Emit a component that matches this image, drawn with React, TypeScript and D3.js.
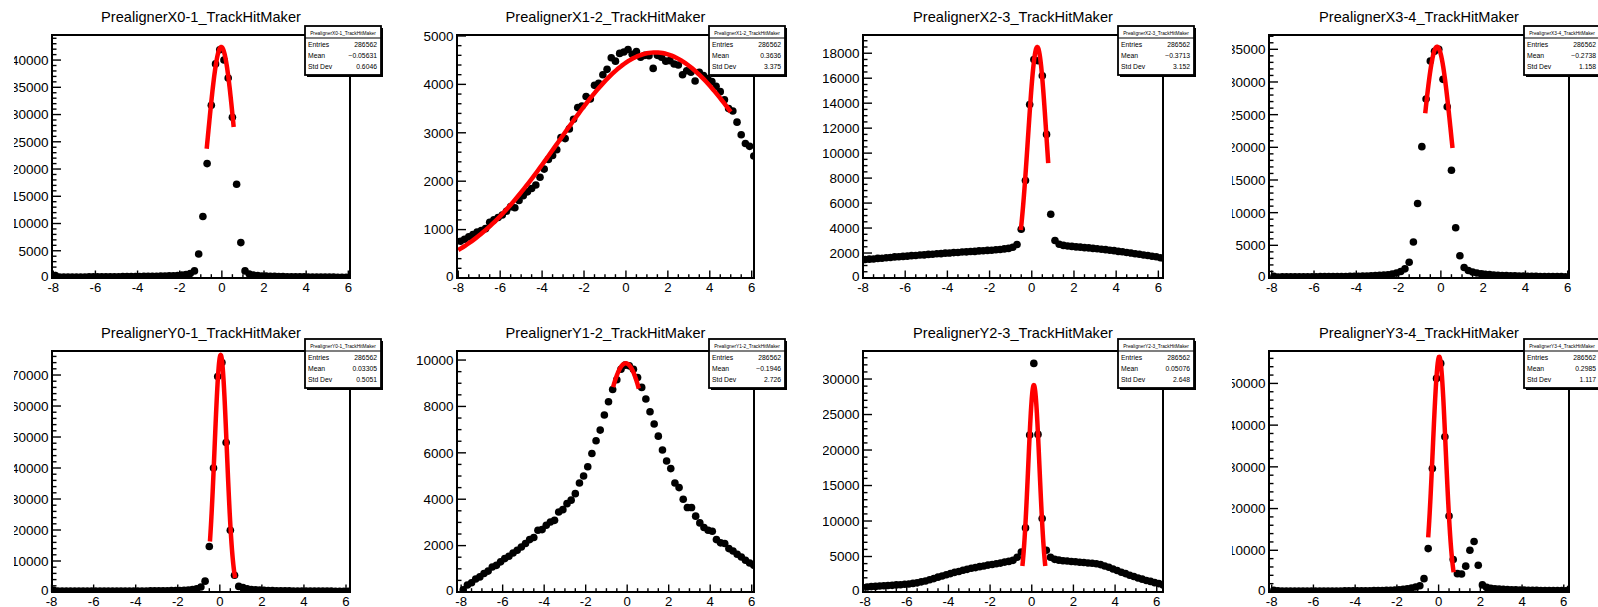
import { useEffect, useRef } from "react"
import * as d3 from "d3"

const FONT = "'Liberation Sans', Arial, Helvetica, sans-serif"

// 72 bins of width 0.2 starting at -8.0
const binLow = -8.0
const binWidth = 0.2

const titles = [
  "PrealignerX0-1_TrackHitMaker",
  "PrealignerX1-2_TrackHitMaker",
  "PrealignerX2-3_TrackHitMaker",
  "PrealignerX3-4_TrackHitMaker",
  "PrealignerY0-1_TrackHitMaker",
  "PrealignerY1-2_TrackHitMaker",
  "PrealignerY2-3_TrackHitMaker",
  "PrealignerY3-4_TrackHitMaker",
]

const countsX01 = [
  450, 180, 170, 175, 180, 185, 190, 195, 200, 205,
  210, 215, 220, 225, 230, 240, 245, 250, 260, 270,
  280, 290, 300, 315, 330, 350, 370, 390, 420, 460,
  520, 620, 820, 1300, 4400, 11300, 21000, 31700, 39300, 41900,
  40000, 36700, 29500, 17200, 6500, 1300, 720, 520, 430, 380,
  340, 310, 290, 270, 250, 240, 230, 220, 210, 200,
  190, 185, 180, 170, 165, 160, 155, 150, 145, 140,
  135, 130,
]
const countsX12 = [
  760, 800, 850, 900, 950, 980, 1020, 1150, 1200, 1250,
  1300, 1380, 1470, 1450, 1600, 1700, 1780, 1850, 1920, 2080,
  2250, 2450, 2530, 2650, 2900, 2880, 3080, 3280, 3520, 3550,
  3750, 3700, 3980, 4020, 4200, 4310, 4550, 4480, 4640, 4670,
  4720, 4620, 4680, 4560, 4600, 4590, 4330, 4600, 4560, 4480,
  4490, 4420, 4400, 4200, 4280, 4250, 4070, 4250, 4180, 4120,
  4060, 3960, 3850, 3680, 3500, 3450, 3220, 2960, 2780, 2720,
  2520, 2450,
]
const countsX23 = [
  1480, 1510, 1520, 1570, 1580, 1620, 1640, 1690, 1700, 1730,
  1750, 1790, 1800, 1840, 1850, 1890, 1900, 1940, 1950, 1990,
  2000, 2030, 2040, 2080, 2090, 2120, 2130, 2170, 2180, 2210,
  2220, 2260, 2280, 2330, 2370, 2460, 2680, 3900, 7800, 13900,
  17500, 17400, 16200, 11500, 5100, 3000, 2700, 2610, 2560, 2530,
  2490, 2470, 2430, 2410, 2370, 2340, 2300, 2270, 2220, 2190,
  2130, 2100, 2040, 2000, 1940, 1900, 1840, 1800, 1740, 1700,
  1620, 1550,
]
const countsX34 = [
  250, 160, 165, 170, 170, 175, 180, 185, 190, 195,
  200, 205, 210, 215, 220, 225, 235, 240, 250, 260,
  270, 290, 310, 335, 365, 400, 440, 500, 600, 750,
  1000, 1400, 2400, 5500, 11400, 20100, 27400, 33200, 34700, 35000,
  30400, 26200, 16500, 7700, 3400, 1600, 1150, 900, 760, 650,
  570, 510, 460, 420, 390, 360, 340, 320, 300, 285,
  270, 260, 250, 240, 230, 220, 215, 210, 205, 200,
  195, 190,
]
const countsY01 = [
  520, 300, 290, 290, 285, 285, 280, 280, 280, 280,
  280, 285, 285, 290, 290, 295, 300, 300, 310, 315,
  320, 330, 340, 350, 360, 375, 390, 410, 430, 460,
  500, 560, 640, 760, 1000, 1600, 3500, 14700, 40000, 69500,
  74000, 48200, 19900, 5400, 1800, 1400, 1000, 800, 680, 600,
  540, 490, 450, 420, 400, 380, 360, 345, 330, 320,
  310, 300, 290, 285, 280, 275, 270, 265, 260, 255,
  250, 300,
]
const countsY12 = [
  100, 300, 400, 560, 650, 800, 900, 1080, 1150, 1300,
  1440, 1540, 1680, 1800, 1940, 2090, 2260, 2350, 2660, 2690,
  2880, 3020, 3090, 3450, 3550, 3810, 3960, 4240, 4700, 5000,
  5400, 5970, 6520, 6980, 7630, 8200, 8730, 9150, 9600, 9780,
  9750, 9600, 9250, 8820, 8320, 7770, 7240, 6720, 6120, 5650,
  5320, 4700, 4500, 4000, 3640, 3640, 3270, 2980, 2780, 2660,
  2620, 2260, 2120, 2090, 1870, 1770, 1630, 1510, 1370, 1250,
  1150, 1100,
]
const countsY23 = [
  700, 760, 790, 850, 870, 920, 940, 1000, 1020, 1090,
  1130, 1210, 1290, 1430, 1550, 1730, 1890, 2090, 2250, 2440,
  2590, 2770, 2890, 3060, 3190, 3340, 3440, 3570, 3670, 3790,
  3870, 3990, 4070, 4210, 4310, 4460, 4900, 5640, 9030, 22100,
  32200, 22200, 10340, 5880, 4900, 4600, 4490, 4410, 4370, 4290,
  4260, 4190, 4160, 4090, 4060, 3970, 3860, 3670, 3490, 3240,
  3030, 2790, 2590, 2360, 2180, 1970, 1810, 1630, 1490, 1320,
  1180, 1000,
]
const countsY34 = [
  400, 260, 255, 250, 250, 245, 245, 240, 240, 240,
  240, 240, 245, 245, 250, 250, 255, 260, 265, 270,
  280, 290, 300, 310, 320, 340, 360, 380, 410, 450,
  520, 620, 760, 950, 1200, 1500, 3200, 10400, 29600, 51200,
  54800, 37200, 18200, 7800, 4400, 4300, 6200, 10000, 12100, 6400,
  1700, 1100, 880, 760, 680, 620, 570, 530, 500, 470,
  450, 430, 410, 390, 370, 360, 350, 340, 330, 320,
  310, 800,
]
const counts = [countsX01, countsX12, countsX23, countsX34, countsY01, countsY12, countsY23, countsY34]

const entries = ["286562", "286562", "286562", "286562", "286562", "286562", "286562", "286562"]
const means = ["\u22120.05631", "0.3636", "\u22120.3713", "\u22120.2738", "0.03305", "\u22120.1946", "0.05076", "0.2985"]
const stdDevs = ["0.6046", "3.375", "3.152", "1.158", "0.5051", "2.726", "2.648", "1.117"]

const yMaxes = [44600, 5020, 19460, 37190, 77750, 10390, 33950, 57770]
const yMajorSteps = [5000, 1000, 2000, 5000, 10000, 2000, 5000, 10000]
const yMinorDivs = [5, 5, 4, 5, 5, 4, 5, 5]
const xMins = [-8.06, -8.06, -8.0, -8.13, -7.98, -8.2, -8.1, -8.13]
const xMaxes = [6.08, 6.11, 6.22, 6.06, 6.19, 6.11, 6.3, 6.25]

// gaussian fits (constant, mean, sigma, range)
const fitConst = [42400, 4660, 18500, 35400, 76500, 9860, 29150, 56400]
const fitMean = [-0.03, 1.4, 0.26, -0.18, 0.04, -0.07, 0.1, 0.03]
const fitSigma = [0.64, 4.6, 0.44, 0.68, 0.29, 1.3, 0.27, 0.31]
const fitLow = [-0.72, -8.0, -0.52, -0.74, -0.47, -0.68, -0.45, -0.5]
const fitHigh = [0.56, 5.0, 0.78, 0.55, 0.73, 0.56, 0.65, 0.72]

// pad geometry
const frameLeft = [52, 457, 863, 1269]
const frameRight = [350, 754, 1163, 1569]
const frameTop = [35, 351]
const frameBottom = [278, 592]
const padLeft = [14, 412, 823, 1232]

export default function App() {
  const ref = useRef<SVGSVGElement>(null)

  useEffect(() => {
    if (!ref.current) return
    const svg = d3.select(ref.current)
    svg.selectAll("*").remove()
    const defs = svg.append("defs")

    titles.forEach((title, k) => {
      const col = k % 4
      const row = Math.floor(k / 4)
      const L = frameLeft[col]
      const R = frameRight[col]
      const T = frameTop[row]
      const B = frameBottom[row]
      const x = d3.scaleLinear().domain([xMins[k], xMaxes[k]]).range([L, R])
      const y = d3.scaleLinear().domain([0, yMaxes[k]]).range([B, T])
      const g = svg.append("g")

      defs.append("clipPath").attr("id", `frame${k}`)
        .append("rect").attr("x", L).attr("y", T).attr("width", R - L).attr("height", B - T)
      defs.append("clipPath").attr("id", `pad${k}`)
        .append("rect").attr("x", padLeft[col]).attr("y", T - 30)
        .attr("width", R - padLeft[col] + 60).attr("height", B - T + 60)

      // title
      g.append("text")
        .attr("x", (L + R) / 2).attr("y", T - 13.5)
        .attr("text-anchor", "middle").attr("font-size", 14.6)
        .text(title)

      // ticks
      const step = yMajorSteps[k]
      const yMajor = d3.range(0, yMaxes[k] + 1, step)
      const yMinor = d3.range(0, yMaxes[k], step / yMinorDivs[k])
        .filter((v) => Math.abs(v / step - Math.round(v / step)) > 1e-6)
      const xMajor = d3.range(-8, xMaxes[k] + 1e-6, 2)
      const xMinor = d3.range(-8, xMaxes[k], 0.5).filter((v) => v % 2 !== 0)

      const ticks = g.append("g").attr("stroke", "#000").attr("stroke-width", 1.4)
      yMajor.forEach((v) => ticks.append("line").attr("x1", L).attr("x2", L + 9).attr("y1", y(v)).attr("y2", y(v)))
      yMinor.forEach((v) => ticks.append("line").attr("x1", L).attr("x2", L + 4.5).attr("y1", y(v)).attr("y2", y(v)))
      xMajor.forEach((v) => ticks.append("line").attr("x1", x(v)).attr("x2", x(v)).attr("y1", B).attr("y2", B - 7.5))
      xMinor.forEach((v) => ticks.append("line").attr("x1", x(v)).attr("x2", x(v)).attr("y1", B).attr("y2", B - 3.8))

      // data points
      const dots = g.append("g").attr("clip-path", `url(#frame${k})`)
      dots.selectAll("circle")
        .data(counts[k])
        .join("circle")
        .attr("cx", (_, i) => x(binLow + binWidth * (i + 0.5)))
        .attr("cy", (d) => y(d))
        .attr("r", 3.8)
        .attr("fill", "#000")

      // gaussian fit
      const gauss = (v: number) => fitConst[k] * Math.exp(-0.5 * ((v - fitMean[k]) / fitSigma[k]) ** 2)
      const fx = d3.range(0, 121).map((i) => fitLow[k] + ((fitHigh[k] - fitLow[k]) * i) / 120)
      const line = d3.line<number>().x((v) => x(v)).y((v) => y(gauss(v)))
      g.append("path")
        .attr("clip-path", `url(#frame${k})`)
        .attr("d", line(fx))
        .attr("fill", "none")
        .attr("stroke", "#f00")
        .attr("stroke-width", 4.5)
        .attr("stroke-linejoin", "round")

      // frame
      g.append("rect")
        .attr("x", L).attr("y", T).attr("width", R - L).attr("height", B - T)
        .attr("fill", "none").attr("stroke", "#000").attr("stroke-width", 2)

      // y labels
      const yl = g.append("g").attr("clip-path", `url(#pad${k})`)
        .attr("font-size", 13.5).attr("text-anchor", "end")
      yMajor.forEach((v) =>
        yl.append("text").attr("x", L - 3.5).attr("y", y(v)).attr("dy", v === 0 ? "0.2em" : "0.36em").text(String(v))
      )

      // x labels
      const xl = g.append("g").attr("font-size", 13.2).attr("text-anchor", "middle")
      xMajor.forEach((v) =>
        xl.append("text").attr("x", x(v)).attr("y", B + 13.5).text(String(v))
      )

      // stats box
      const bx = R - 45
      const by = row === 0 ? 26 : 339
      const bw = 76
      const bh = 49
      g.append("rect").attr("x", bx + 2).attr("y", by + 2).attr("width", bw).attr("height", bh).attr("fill", "#000")
      g.append("rect").attr("x", bx).attr("y", by).attr("width", bw).attr("height", bh)
        .attr("fill", "#fff").attr("stroke", "#000").attr("stroke-width", 1.8)
      g.append("line").attr("x1", bx).attr("x2", bx + bw).attr("y1", by + 12).attr("y2", by + 12)
        .attr("stroke", "#000").attr("stroke-width", 1.2)
      g.append("text").attr("x", bx + bw / 2).attr("y", by + 8.5)
        .attr("text-anchor", "middle").attr("font-size", 4.8).text(title)
      const rows = [["Entries", entries[k]], ["Mean", means[k]], ["Std Dev", stdDevs[k]]]
      rows.forEach(([label, value], r) => {
        const ty = by + 21 + r * 11
        g.append("text").attr("x", bx + 3).attr("y", ty).attr("font-size", 6.8).text(label)
        g.append("text").attr("x", bx + bw - 4).attr("y", ty).attr("font-size", 6.8)
          .attr("text-anchor", "end").text(value)
      })
    })
  }, [])

  return (
    <svg
      ref={ref}
      width={1598}
      height={607}
      style={{ position: "absolute", left: 0, top: 0, background: "#fff", fontFamily: FONT }}
    />
  )
}
